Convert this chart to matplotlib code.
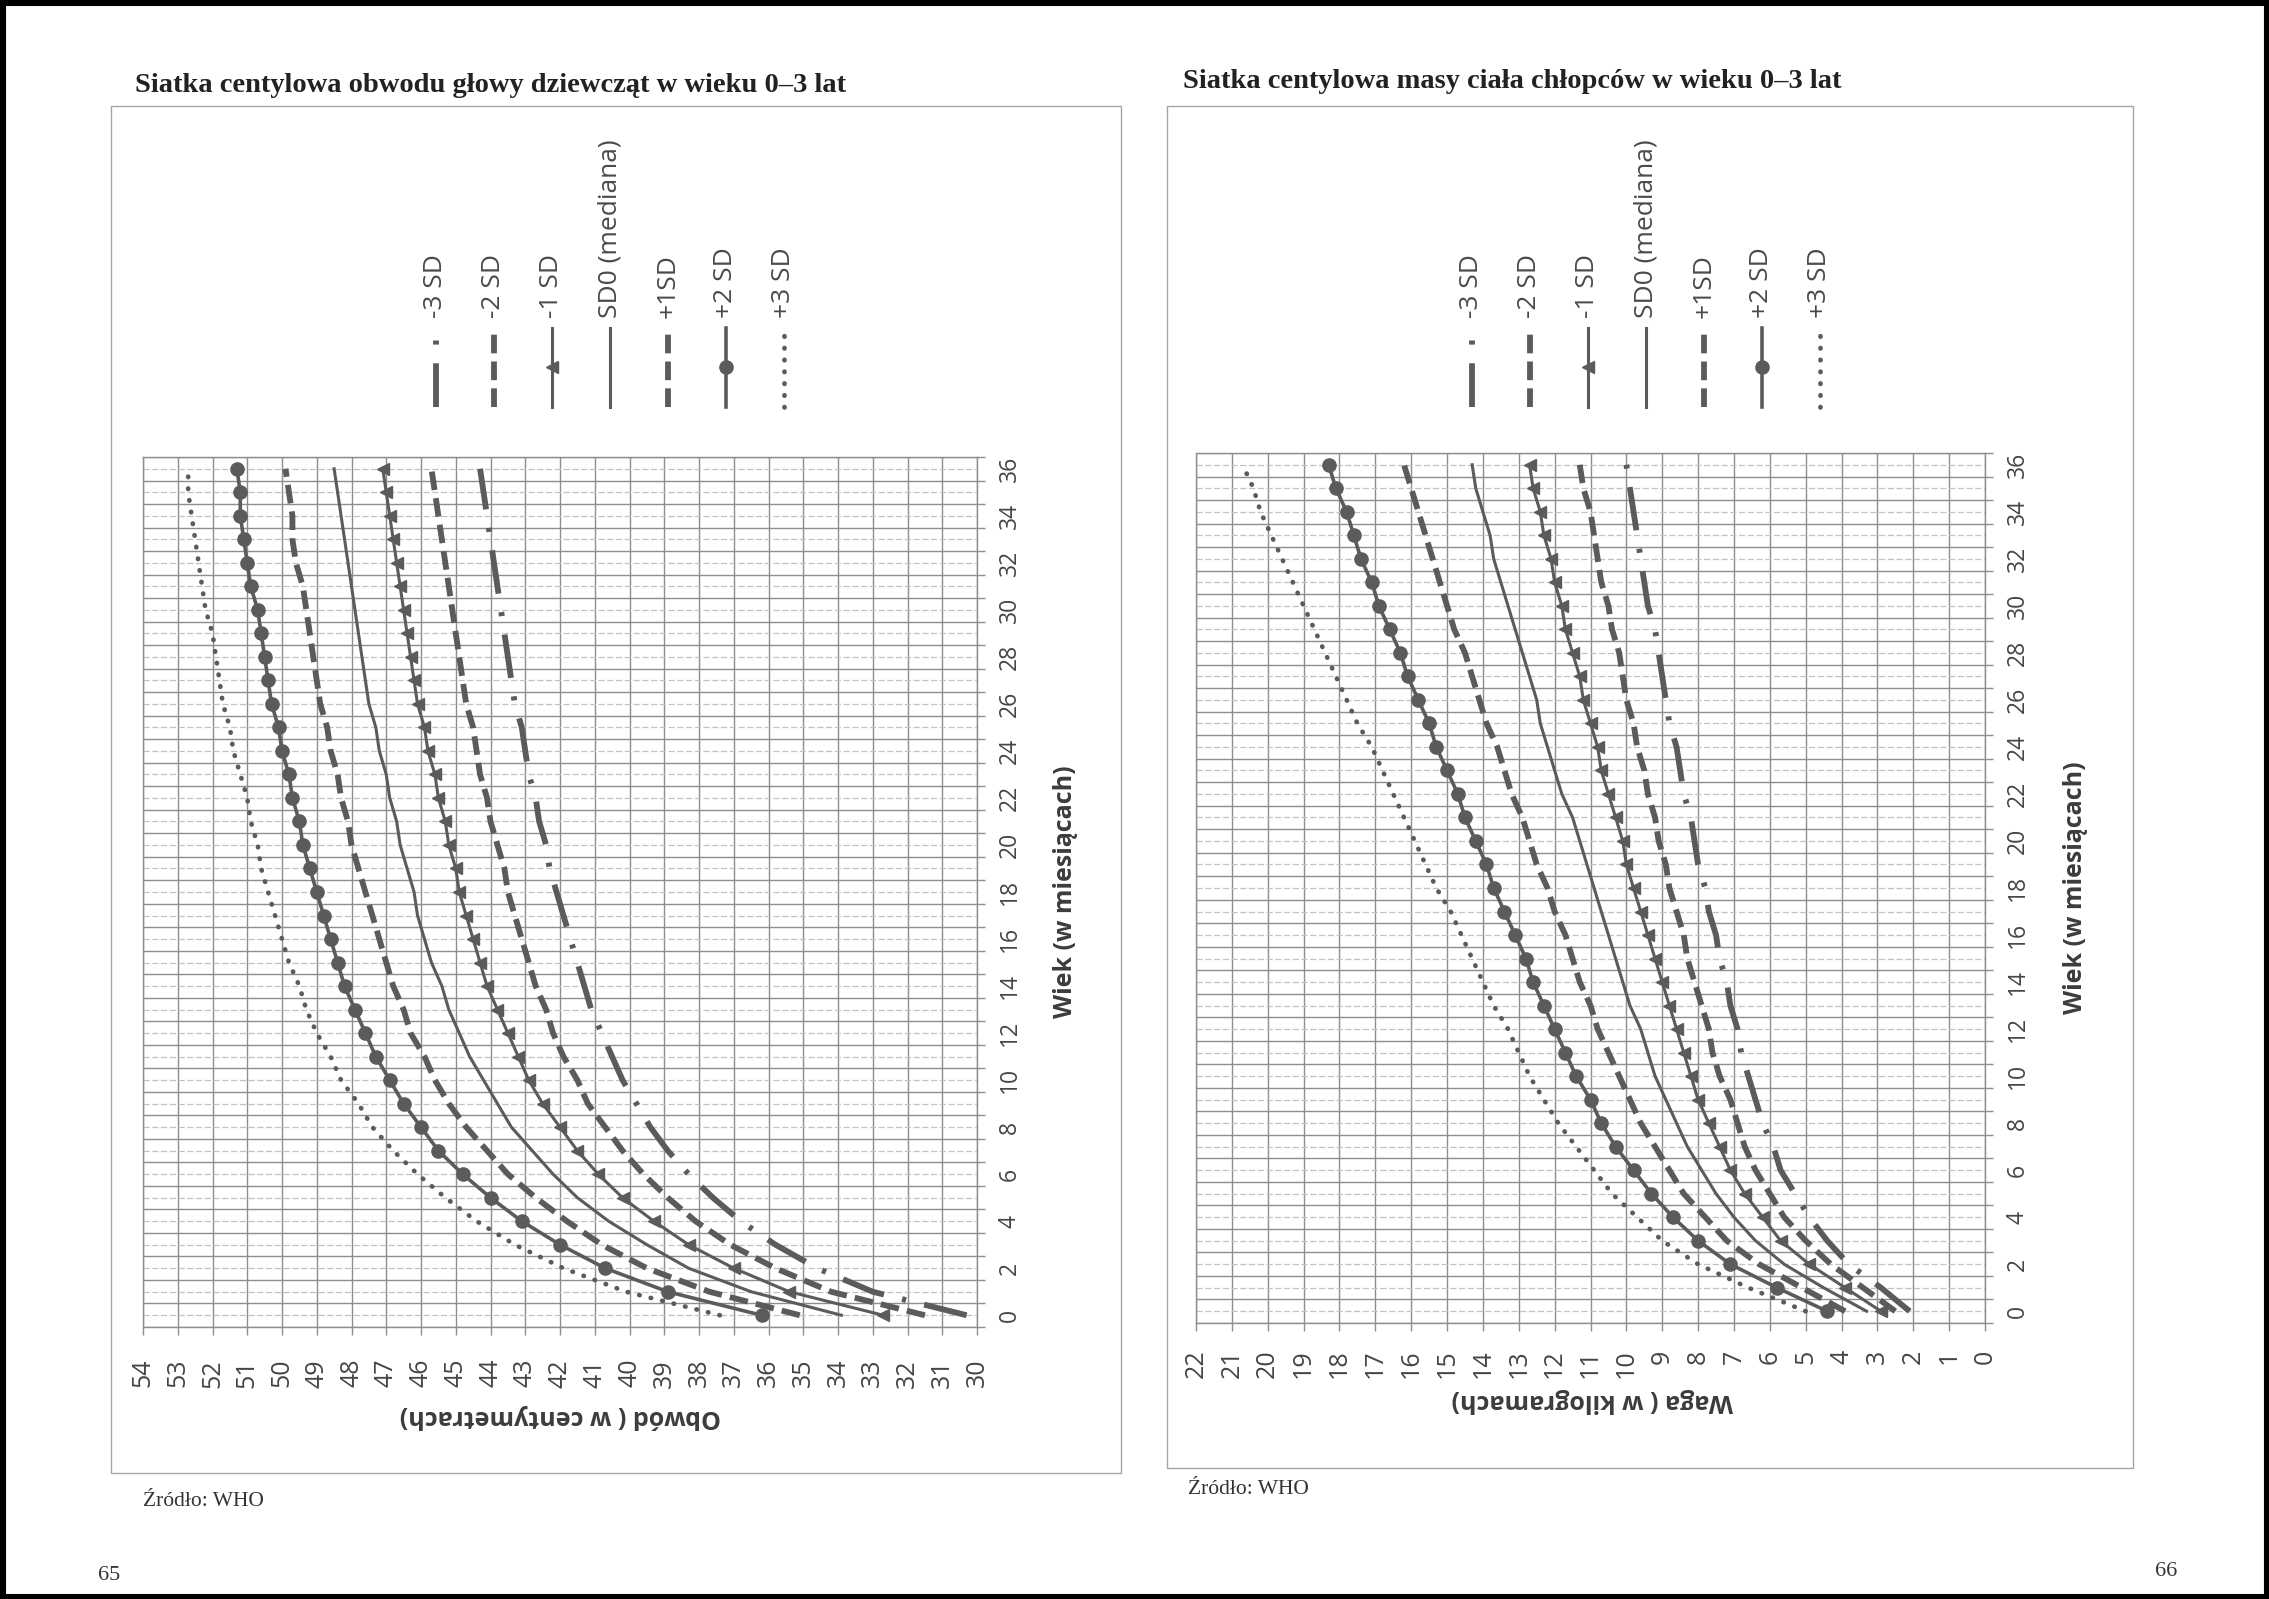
import matplotlib
matplotlib.use('Agg')
import matplotlib.pyplot as plt
from matplotlib.lines import Line2D
from matplotlib.patches import Rectangle
from matplotlib.ticker import MultipleLocator, FuncFormatter

plt.rcParams['font.family'] = ['Open Sans', 'DejaVu Sans']

# wiek w miesiacach
months = list(range(37))

# obwod glowy dziewczat (cm), WHO
hc_sd3neg = [30.3, 33.0, 34.6, 35.8, 36.8, 37.6, 38.3, 38.9, 39.4, 39.8, 40.2, 40.5, 40.8, 41.1, 41.3, 41.5, 41.7, 41.9, 42.1,
             42.3, 42.4, 42.6, 42.7, 42.9, 43.0, 43.1, 43.3, 43.4, 43.5, 43.6, 43.7, 43.8, 43.9, 44.0, 44.1, 44.2, 44.3]
hc_sd2neg = [31.5, 34.2, 35.8, 37.1, 38.1, 38.9, 39.6, 40.2, 40.7, 41.2, 41.5, 41.9, 42.2, 42.4, 42.7, 42.9, 43.1, 43.3, 43.5,
             43.6, 43.8, 44.0, 44.1, 44.3, 44.4, 44.5, 44.7, 44.8, 44.9, 45.0, 45.1, 45.2, 45.3, 45.4, 45.5, 45.6, 45.7]
hc_sd1neg = [32.7, 35.4, 37.0, 38.3, 39.3, 40.2, 40.9, 41.5, 42.0, 42.5, 42.9, 43.2, 43.5, 43.8, 44.1, 44.3, 44.5, 44.7, 44.9,
             45.0, 45.2, 45.3, 45.5, 45.6, 45.8, 45.9, 46.1, 46.2, 46.3, 46.4, 46.5, 46.6, 46.7, 46.8, 46.9, 47.0, 47.1]
hc_sd0 = [33.9, 36.5, 38.3, 39.5, 40.6, 41.5, 42.2, 42.8, 43.4, 43.8, 44.2, 44.6, 44.9, 45.2, 45.4, 45.7, 45.9, 46.1, 46.2,
          46.4, 46.6, 46.7, 46.9, 47.0, 47.2, 47.3, 47.5, 47.6, 47.7, 47.8, 47.9, 48.0, 48.1, 48.2, 48.3, 48.4, 48.5]
hc_sd1 = [35.1, 37.7, 39.5, 40.8, 41.8, 42.7, 43.5, 44.1, 44.7, 45.2, 45.6, 45.9, 46.3, 46.5, 46.8, 47.0, 47.2, 47.4, 47.6,
          47.8, 48.0, 48.1, 48.3, 48.4, 48.6, 48.7, 48.9, 49.0, 49.1, 49.2, 49.3, 49.4, 49.6, 49.7, 49.7, 49.8, 49.9]
hc_sd2 = [36.2, 38.9, 40.7, 42.0, 43.1, 44.0, 44.8, 45.5, 46.0, 46.5, 46.9, 47.3, 47.6, 47.9, 48.2, 48.4, 48.6, 48.8, 49.0,
          49.2, 49.4, 49.5, 49.7, 49.8, 50.0, 50.1, 50.3, 50.4, 50.5, 50.6, 50.7, 50.9, 51.0, 51.1, 51.2, 51.2, 51.3]
hc_sd3 = [37.4, 40.1, 41.9, 43.3, 44.4, 45.3, 46.1, 46.8, 47.4, 47.8, 48.3, 48.6, 49.0, 49.3, 49.5, 49.8, 50.0, 50.2, 50.4,
          50.6, 50.7, 50.9, 51.0, 51.2, 51.4, 51.5, 51.7, 51.8, 51.9, 52.0, 52.2, 52.3, 52.4, 52.5, 52.6, 52.7, 52.7]

# masa ciala chlopcow (kg), WHO
wt_sd3neg = [2.1, 2.9, 3.8, 4.4, 4.9, 5.3, 5.7, 5.9, 6.2, 6.4, 6.6, 6.8, 6.9, 7.1, 7.2, 7.4, 7.5, 7.7, 7.8,
             8.0, 8.1, 8.2, 8.4, 8.5, 8.6, 8.8, 8.9, 9.0, 9.1, 9.2, 9.4, 9.5, 9.6, 9.7, 9.8, 9.9, 10.0]
wt_sd2neg = [2.5, 3.4, 4.3, 5.0, 5.6, 6.0, 6.4, 6.7, 6.9, 7.1, 7.4, 7.6, 7.7, 7.9, 8.1, 8.3, 8.4, 8.6, 8.8,
             8.9, 9.1, 9.2, 9.4, 9.5, 9.7, 9.8, 10.0, 10.1, 10.2, 10.4, 10.5, 10.7, 10.8, 10.9, 11.0, 11.2, 11.3]
wt_sd1neg = [2.9, 3.9, 4.9, 5.7, 6.2, 6.7, 7.1, 7.4, 7.7, 8.0, 8.2, 8.4, 8.6, 8.8, 9.0, 9.2, 9.4, 9.6, 9.8,
             10.0, 10.1, 10.3, 10.5, 10.7, 10.8, 11.0, 11.2, 11.3, 11.5, 11.7, 11.8, 12.0, 12.1, 12.3, 12.4, 12.6, 12.7]
wt_sd0 = [3.3, 4.5, 5.6, 6.4, 7.0, 7.5, 7.9, 8.3, 8.6, 8.9, 9.2, 9.4, 9.6, 9.9, 10.1, 10.3, 10.5, 10.7, 10.9,
          11.1, 11.3, 11.5, 11.8, 12.0, 12.2, 12.4, 12.5, 12.7, 12.9, 13.1, 13.3, 13.5, 13.7, 13.8, 14.0, 14.2, 14.3]
wt_sd1 = [3.9, 5.1, 6.3, 7.2, 7.8, 8.4, 8.8, 9.2, 9.6, 9.9, 10.2, 10.5, 10.8, 11.0, 11.3, 11.5, 11.7, 12.0, 12.2,
          12.5, 12.7, 12.9, 13.2, 13.4, 13.6, 13.9, 14.1, 14.3, 14.5, 14.8, 15.0, 15.2, 15.4, 15.6, 15.8, 16.0, 16.2]
wt_sd2 = [4.4, 5.8, 7.1, 8.0, 8.7, 9.3, 9.8, 10.3, 10.7, 11.0, 11.4, 11.7, 12.0, 12.3, 12.6, 12.8, 13.1, 13.4, 13.7,
          13.9, 14.2, 14.5, 14.7, 15.0, 15.3, 15.5, 15.8, 16.1, 16.3, 16.6, 16.9, 17.1, 17.4, 17.6, 17.8, 18.1, 18.3]
wt_sd3 = [5.0, 6.6, 8.0, 9.0, 9.7, 10.4, 10.9, 11.4, 11.9, 12.3, 12.7, 13.0, 13.3, 13.7, 14.0, 14.3, 14.6, 14.9, 15.3,
          15.6, 15.9, 16.2, 16.5, 16.8, 17.1, 17.5, 17.8, 18.1, 18.4, 18.7, 19.0, 19.3, 19.6, 19.9, 20.2, 20.4, 20.7]

series_labels = ['-3 SD', '-2 SD', '-1 SD', 'SD0 (mediana)', '+1SD', '+2 SD', '+3 SD']

gray = '#5b5b5b'
grid_dark = '#8e8e8e'
grid_light = '#c2c2c2'
styles = [
    dict(lw=4.2, ls=(0, (7.5, 3.2, 0.7, 3.2))),
    dict(lw=4.2, ls=(0, (3.2, 1.4))),
    dict(lw=2.2, ls='-', marker='<', ms=8.5),
    dict(lw=2.2, ls='-'),
    dict(lw=4.2, ls=(0, (3.2, 1.4))),
    dict(lw=2.6, ls='-', marker='o', ms=9.5),
    dict(lw=3.4, ls=(0, (0.1, 2.4)), dash_capstyle='round'),
]

W, H = 2269, 1599
fig = plt.figure(figsize=(W / 100, H / 100), dpi=100)
fig.patch.set_facecolor('white')


def fx(x):
    return x / W


def fy(y):
    return 1 - y / H


def draw_chart(box, vmax, vmin, series, title, title_xy, xlabel, xlabel_xy,
               ylabel_xy, legend_x0, box_px, src_xy, pad_x):
    x0, y0, x1, y1 = box
    ax = fig.add_axes([fx(x0), fy(y1), fx(x1) - fx(x0), fy(y0) - fy(y1)])
    for vals, st in zip(series, styles):
        ax.plot(vals, months, color=gray, mfc=gray, mec=gray, **st)

    ax.set_xlim(vmax, vmin)
    ax.set_ylim(-0.5, 36.5)
    ax.xaxis.set_major_locator(MultipleLocator(1))
    ax.yaxis.set_major_locator(MultipleLocator(1))
    ax.yaxis.set_minor_locator(MultipleLocator(1, offset=0.5))
    ax.yaxis.set_major_formatter(FuncFormatter(
        lambda v, p: '%d' % round(v) if round(v) % 2 == 0 else ''))
    ax.grid(axis='x', which='major', color=grid_dark, lw=1.0)
    ax.grid(axis='y', which='minor', color=grid_dark, lw=1.0)
    ax.grid(axis='y', which='major', color=grid_light, lw=0.9, ls=(0, (5, 2)))
    ax.set_axisbelow(True)
    for sp in ax.spines.values():
        sp.set_color(grid_dark)
        sp.set_linewidth(1.0)

    ax.yaxis.tick_right()
    ax.tick_params(axis='x', which='major', direction='out', length=6, width=1,
                   color=grid_dark, labelsize=18, labelrotation=90, pad=pad_x,
                   labelcolor='#454545')
    ax.tick_params(axis='y', which='major', length=0, labelsize=16.5,
                   labelrotation=90, pad=15, labelcolor='#454545')
    ax.tick_params(axis='y', which='minor', direction='out', length=6, width=1,
                   color=grid_dark)
    for lbl in ax.get_yticklabels():
        lbl.set_va('center')

    # tytul i podpisy osi
    fig.text(fx(title_xy[0]), fy(title_xy[1]), title, family='Liberation Serif',
             fontweight='bold', fontsize=20.5, va='baseline', color='#222222')
    fig.text(fx(ylabel_xy[0]), fy(ylabel_xy[1]), 'Wiek (w miesiącach)', rotation=90,
             ha='center', va='center', fontsize=18, fontweight='bold', color='#3c3c3c')
    fig.text(fx(xlabel_xy[0]), fy(xlabel_xy[1]), xlabel, rotation=180,
             ha='center', va='center', fontsize=18, fontweight='bold', color='#3c3c3c')

    # legenda (obrocona)
    for i, (lab, st) in enumerate(zip(series_labels, styles)):
        lx = fx(legend_x0 + i * 58)
        fig.add_artist(Line2D([lx, lx], [fy(407), fy(328)], transform=fig.transFigure,
                              color=gray, lw=st['lw'], ls=st['ls'],
                              dash_capstyle=st.get('dash_capstyle', 'butt')))
        if 'marker' in st:
            fig.add_artist(Line2D([lx], [fy(367)], transform=fig.transFigure, ls='none',
                                  marker=st['marker'], ms=st['ms'], color=gray))
        fig.text(lx, fy(318), lab, rotation=90, ha='center', va='bottom',
                 fontsize=19, color='#4a4a4a')

    bx0, by0, bx1, by1 = box_px
    fig.add_artist(Rectangle((fx(bx0), fy(by1)), fx(bx1) - fx(bx0), fy(by0) - fy(by1),
                             transform=fig.transFigure, fill=False, ec='#a5a5a5', lw=1.0))
    fig.text(fx(src_xy[0]), fy(src_xy[1]), 'Źródło: WHO', family='Liberation Serif',
             fontsize=15.5, va='center', color='#333333')
    return ax


draw_chart((143, 457, 977, 1327), 54, 30,
           [hc_sd3neg, hc_sd2neg, hc_sd1neg, hc_sd0, hc_sd1, hc_sd2, hc_sd3],
           'Siatka centylowa obwodu głowy dziewcząt w wieku 0–3 lat', (135, 92),
           'Obwód ( w centymetrach)', (560, 1416), (1065, 892), 436,
           (111, 106, 1121, 1473), (143, 1502), 17)

draw_chart((1196, 453, 1985, 1323), 22, 0,
           [wt_sd3neg, wt_sd2neg, wt_sd1neg, wt_sd0, wt_sd1, wt_sd2, wt_sd3],
           'Siatka centylowa masy ciała chłopców w wieku 0–3 lat', (1183, 88),
           'Waga ( w kilogramach)', (1592, 1400), (2076, 888), 1472,
           (1167, 106, 2133, 1468), (1188, 1489), 13)

fig.text(fx(109), fy(1576), '65', family='Liberation Serif', fontsize=16,
         ha='center', va='center', color='#333333')
fig.text(fx(2166), fy(1572), '66', family='Liberation Serif', fontsize=16,
         ha='center', va='center', color='#333333')

# ramka strony
fig.add_artist(Rectangle((0, 0), 1, 1, transform=fig.transFigure, fill=False,
                         ec='black', lw=8))

fig.savefig('out.png', dpi=100)
